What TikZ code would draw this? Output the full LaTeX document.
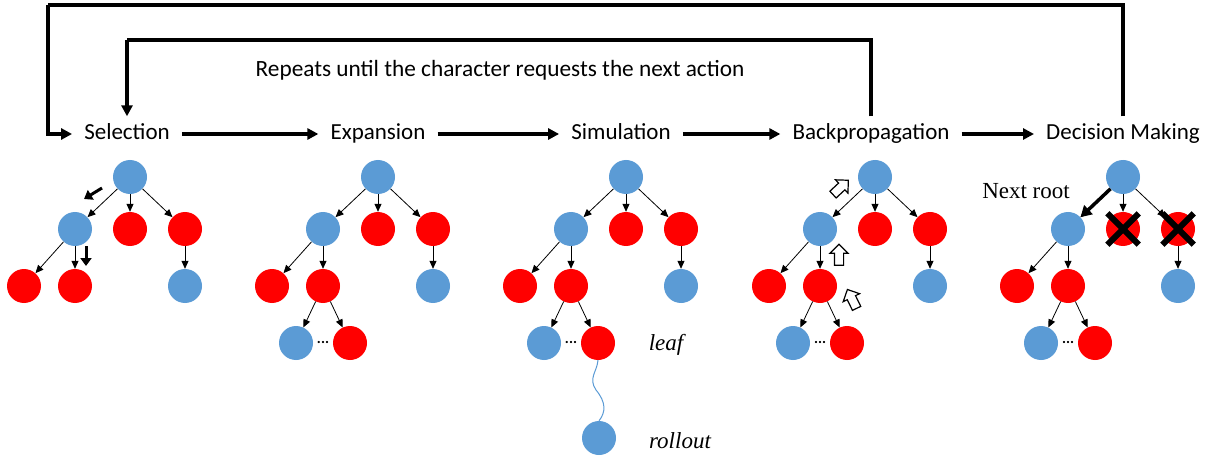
\documentclass[tikz,border=0pt]{standalone}
\usepackage{fontspec}
\setmainfont{Carlito}
\newfontfamily\timesfont{Liberation Serif}
\usetikzlibrary{arrows.meta,shapes.arrows}

\definecolor{nodeblue}{RGB}{91,155,213}
\definecolor{nodered}{RGB}{255,0,0}

\tikzset{
  bnode/.style={circle,fill=nodeblue,minimum size=34pt,inner sep=0pt},
  rnode/.style={circle,fill=nodered,minimum size=34pt,inner sep=0pt},
  edge/.style={line width=0.8pt,-{Triangle[length=8pt,width=7pt]}},
  flow/.style={line width=3.5pt,-{Triangle[length=11pt,width=11pt]}},
  phase/.style={font=\fontsize{23}{27}\selectfont,inner xsep=12pt,inner ysep=7pt,text height=16pt,text depth=5pt},
  hint/.style={line width=3pt,-{Triangle[length=8pt,width=11pt]}},
  back/.style={single arrow,draw,line width=1.2pt,fill=white,minimum height=21pt,single arrow head extend=4.5pt,inner sep=4pt},
  cross/.style={line width=6pt,shorten <=-5pt,shorten >=-5pt},
  note/.style={font=\timesfont\fontsize{23}{27}\selectfont}
}

\begin{document}
\begin{tikzpicture}[x=1pt,y=-1pt]
        \useasboundingbox (0,0) rectangle (1214,462);

        % 五个阶段
        \node[phase] (sel) at (127,134) {Selection};
        \node[phase] (exp) at (378,134) {Expansion};
        \node[phase] (sim) at (621,134) {Simulation};
        \node[phase] (bp)  at (871,134) {Backpropagation};
        \node[phase] (dec) at (1123,134) {Decision Making};
        \draw[flow] (sel) -- (exp);
        \draw[flow] (exp) -- (sim);
        \draw[flow] (sim) -- (bp);
        \draw[flow] (bp) -- (dec);

        % 两个回路
        \coordinate (outer) at (48,5);
        \coordinate (inner) at (127,40);
        \draw[line width=3.5pt] (dec.north) |- (outer);
        \draw[flow] (outer) |- (sel.west);
        \draw[line width=3.5pt] (bp.north) |- (inner);
        \draw[flow] (inner) -- (sel.north);
        \node[font=\fontsize{23.3}{27}\selectfont] (rep) at (500,70) {Repeats until the character requests the next action};

        % 五棵树
        \foreach \x [count=\i] in {130,378,626,875,1123} {
            \node[bnode] (root\i) at (\x,177) {};
            \node[bnode] (a\i) at (\x-55,229) {};
            \node[rnode] (b\i) at (\x,229) {};
            \node[rnode] (c\i) at (\x+55,229) {};
            \node[rnode] (aa\i) at (\x-106,286) {};
            \node[rnode] (ab\i) at (\x-55,286) {};
            \node[bnode] (cc\i) at (\x+55,286) {};
            \draw[edge] (root\i) -- (a\i);
            \draw[edge] (root\i) -- (b\i);
            \draw[edge] (root\i) -- (c\i);
            \draw[edge] (a\i) -- (aa\i);
            \draw[edge] (a\i) -- (ab\i);
            \draw[edge] (c\i) -- (cc\i);
            \ifnum\i>1
                % 扩展出的新节点
                \node[bnode] (aba\i) at (\x-82,343) {};
                \node[rnode] (abb\i) at (\x-28,343) {};
                \node[font=\bfseries\fontsize{15}{15}\selectfont,inner sep=0pt] (dots\i) at (\x-55,342) {...};
                \draw[edge] (ab\i) -- (aba\i);
                \draw[edge] (ab\i) -- (abb\i);
            \fi
        }

        % Selection 的方向
        \draw[hint] (102,188) -- (84,199);
        \draw[hint] (86,246) -- (86,266);

        % Simulation: rollout
        \node[bnode] (roll) at (599,438) {};
        \draw[nodeblue,line width=1pt] (abb3.south) .. controls (597,372) and (588,378) .. (596,390)
            .. controls (606,402) and (606,412) .. (roll.north);
        \node[note,font=\timesfont\itshape\fontsize{23}{27}\selectfont] (leaf) at (666,345) {leaf};
        \node[note,font=\timesfont\itshape\fontsize{23}{27}\selectfont] (rolltext) at (680,441) {rollout};

        % Backpropagation 的空心箭头
        \node[back,rotate=43] (up1) at (839,189) {};
        \node[back,rotate=90] (up2) at (839,257) {};
        \node[back,rotate=116] (up3) at (853,301) {};

        % Decision Making
        \draw[line width=3.5pt,-{Triangle[length=11pt,width=12pt]}] (root5) -- (a5);
        \node[note] (next) at (1026,191) {Next root};
        \draw[cross] (b5.north west) -- (b5.south east);
        \draw[cross] (b5.north east) -- (b5.south west);
        \draw[cross] (c5.north west) -- (c5.south east);
        \draw[cross] (c5.north east) -- (c5.south west);
    \end{tikzpicture}
\end{document}
